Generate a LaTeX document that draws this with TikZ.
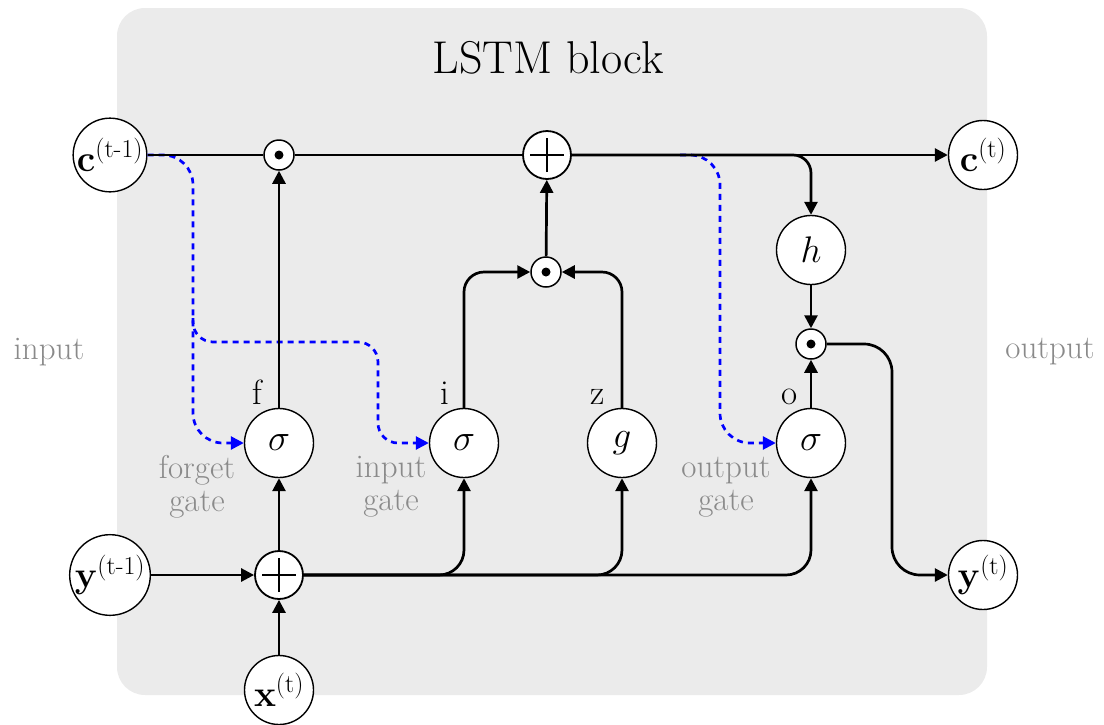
\RequirePackage{fix-cm}
\documentclass[tikz,border=0pt]{standalone}
\usepackage{amsmath}
\usetikzlibrary{arrows.meta}
\definecolor{bgc}{HTML}{EBEBEB}
\definecolor{labc}{HTML}{8A8A8A}
\begin{document}
\begin{tikzpicture}[x=1pt,y=-1pt,
  conn/.style={line width=2.7pt},
  arr/.style={conn,-{Triangle[length=13pt,width=13pt]}},
  peep/.style={line width=2.7pt, blue, dash pattern=on 6pt off 5pt, -{Triangle[length=13pt,width=13pt]}},
  big/.style={circle, draw, line width=1.4pt, fill=white, minimum size=69pt, inner sep=0pt, font=\fontsize{37}{40}\selectfont},
  addn/.style={circle, draw, line width=1.8pt, fill=white, minimum size=48pt, inner sep=0pt,
    path picture={\draw[black, line width=1.1pt] ([xshift=-17pt]path picture bounding box.center) -- ([xshift=17pt]path picture bounding box.center) ([yshift=-17pt]path picture bounding box.center) -- ([yshift=17pt]path picture bounding box.center);}},
  muln/.style={circle, draw, line width=1.5pt, fill=white, minimum size=30pt, inner sep=0pt,
    path picture={\fill[black] (path picture bounding box.center) circle (4.5pt);}},
  lbl/.style={font=\fontsize{35}{40}\selectfont, anchor=base},
  graylbl/.style={text=labc, font=\fontsize{33}{33}\selectfont, align=center}
]
\useasboundingbox (0,0) rectangle (1104,724);
\fill[bgc, rounded corners=28pt] (117,8) rectangle (987,695);

\node[font=\fontsize{46}{50}\selectfont] (title) at (548,58) {LSTM block};
\node[graylbl] (inlab) at (49,352) {input};
\node[graylbl] (outlab) at (1050,352) {output};
\node[graylbl] (fgl) at (197,487) {forget\\gate};
\node[graylbl] (igl) at (391,487) {input\\gate};
\node[graylbl] (ogl) at (726,487) {output\\gate};

\node[big] (cprev) at (110,155) {$\mathbf{c}^{(\mathrm{t}\text{-}1)}$};
\node[muln] (mulf) at (279,155) {};
\node[addn] (addc) at (547,155) {};
\node[big] (ct) at (983,155) {$\mathbf{c}^{(\mathrm{t})}$};
\node[big] (h) at (811,250) {$h$};
\node[muln] (mulo) at (811,344) {};
\node[muln] (muli) at (546,272) {};
\node[big] (sf) at (279,443) {$\sigma$};
\node[big] (si) at (464,443) {$\sigma$};
\node[big] (g) at (622,443) {$g$};
\node[big] (so) at (811,443) {$\sigma$};
\node[addn] (addx) at (279,575) {};
\node[big] (yprev) at (110,575) {$\mathbf{y}^{(\mathrm{t}\text{-}1)}$};
\node[big] (xt) at (279,690) {$\mathbf{x}^{(\mathrm{t})}$};
\node[big] (yt) at (983,575) {$\mathbf{y}^{(\mathrm{t})}$};

\node[lbl] (lf) at (257,404) {f};
\node[lbl] (li) at (445,404) {i};
\node[lbl] (lz) at (598,404) {z};
\node[lbl] (lo) at (790,404) {o};

% peephole connections
\coordinate (pa) at (193,155);
\coordinate (pb) at (193,443);
\coordinate (pc) at (193,318);
\coordinate (pd) at (378,342);
\coordinate (ps) at (680,155);
\coordinate (pe) at (720,155);
\coordinate (pf) at (720,443);
\draw[peep, rounded corners=30pt] (cprev.east) -- (pa) -- (pb) -- (sf.west);
\draw[peep, rounded corners=20pt] (pc) |- (pd) |- (si.west);
\draw[peep, rounded corners=30pt] (ps) -- (pe) -- (pf) -- (so.west);

% cell state line
\draw[conn] (cprev) -- (mulf);
\draw[conn] (mulf) -- (addc);
\draw[arr] (addc) -- (ct);
\draw[arr, rounded corners=18pt] (addc) -| (h);
\draw[arr] (h) -- (mulo);
\draw[arr] (so) -- (mulo);
\coordinate (oc) at (892,344);
\draw[arr, rounded corners=28pt] (mulo) -- (oc) |- (yt);
\draw[arr] (muli) -- (addc);
\draw[arr, rounded corners=20pt] (si) |- (muli);
\draw[arr, rounded corners=20pt] (g) |- (muli);
\draw[arr] (sf) -- (mulf);

% input
\draw[arr] (yprev) -- (addx);
\draw[arr] (xt) -- (addx);
\draw[arr] (addx) -- (sf);
\draw[arr, rounded corners=25pt] (addx) -| (si);
\draw[arr, rounded corners=25pt] (addx) -| (g);
\draw[arr, rounded corners=25pt] (addx) -| (so);
\end{tikzpicture}
\end{document}
